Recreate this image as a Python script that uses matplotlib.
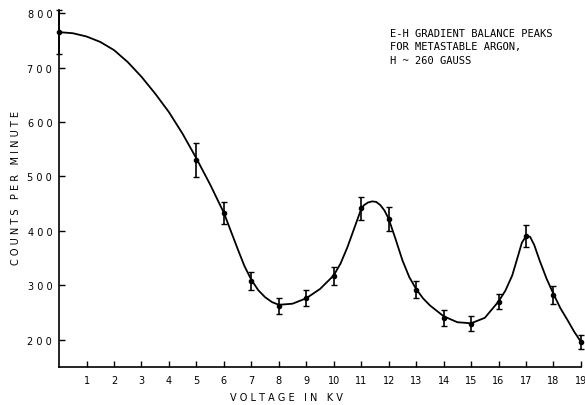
import matplotlib
matplotlib.use("Agg")
import matplotlib.pyplot as plt

# measured points (kV, counts/min, error)
voltage = [0, 5, 6, 7, 8, 9, 10, 11, 12, 13, 14, 15, 16, 17, 18, 19]
counts = [765, 530, 433, 308, 262, 276, 317, 441, 422, 292, 240, 229, 270, 390, 282, 196]
errors = [40, 32, 20, 17, 14, 15, 16, 21, 22, 15, 15, 14, 14, 20, 16, 13]

# hand-drawn smooth curve
curve_x = [0, 0.5, 1, 1.5, 2, 2.5, 3, 3.5, 4, 4.5, 5, 5.25, 5.5, 5.75, 6, 6.25, 6.5,
           6.75, 7, 7.25, 7.5, 7.75, 8, 8.5, 9, 9.5, 10, 10.25, 10.5, 10.75, 11,
           11.1, 11.25, 11.4, 11.55, 11.7, 11.85, 12, 12.25, 12.5, 12.75, 13,
           13.25, 13.5, 14, 14.5, 15, 15.5, 16, 16.25, 16.5, 16.7, 16.85, 17,
           17.15, 17.3, 17.5, 17.75, 18, 18.25, 18.5, 18.75, 19]
curve_y = [765, 763, 757, 747, 732, 710, 683, 652, 618, 578, 533, 509, 485, 459, 433,
           400, 367, 335, 310, 291, 278, 269, 264, 266, 276, 293, 318, 340, 370,
           405, 440, 447, 452, 454, 453, 447, 437, 422, 385, 346, 315, 293, 276,
           263, 243, 232, 230, 240, 270, 290, 318, 352, 378, 390, 389, 374, 345,
           312, 284, 258, 237, 215, 196]

fig = plt.figure(figsize=(5.85, 4.06), dpi=100)
ax = fig.add_axes([0.101, 0.094, 0.892, 0.878])

ax.plot(curve_x, curve_y, color="black", lw=1.3, solid_joinstyle="round", clip_on=False)
ax.errorbar(voltage, counts, yerr=errors, fmt="o", ms=3, color="black",
            ecolor="black", elinewidth=1.2, capsize=2.5, capthick=1.0, clip_on=False)

ax.set_xlim(0, 19)
ax.set_ylim(150, 805)
ax.set_xticks(range(1, 20))
ax.set_yticks([200, 300, 400, 500, 600, 700, 800])
ax.set_yticklabels(["2 0 0", "3 0 0", "4 0 0", "5 0 0", "6 0 0", "7 0 0", "8 0 0"])
ax.tick_params(direction="in", length=4, width=1, labelsize=7)
ax.tick_params(axis="y", pad=5)
ax.tick_params(axis="x", pad=6)
for s in ["top", "right"]:
    ax.spines[s].set_visible(False)
for s in ["left", "bottom"]:
    ax.spines[s].set_linewidth(1.2)

fig.text(0.49, 0.008, "V O L T A G E   I N   K V", fontsize=7, ha="center", va="bottom")
fig.text(0.027, 0.537, "C O U N T S   P E R   M I N U T E", fontsize=7, rotation=90,
         ha="center", va="center")
ax.text(0.634, 0.951, "E-H GRADIENT BALANCE PEAKS\nFOR METASTABLE ARGON,\nH ~ 260 GAUSS",
        transform=ax.transAxes, fontsize=7.5, family="DejaVu Sans Mono",
        va="top", ha="left", linespacing=1.45)

fig.savefig("out.png", dpi=100)
